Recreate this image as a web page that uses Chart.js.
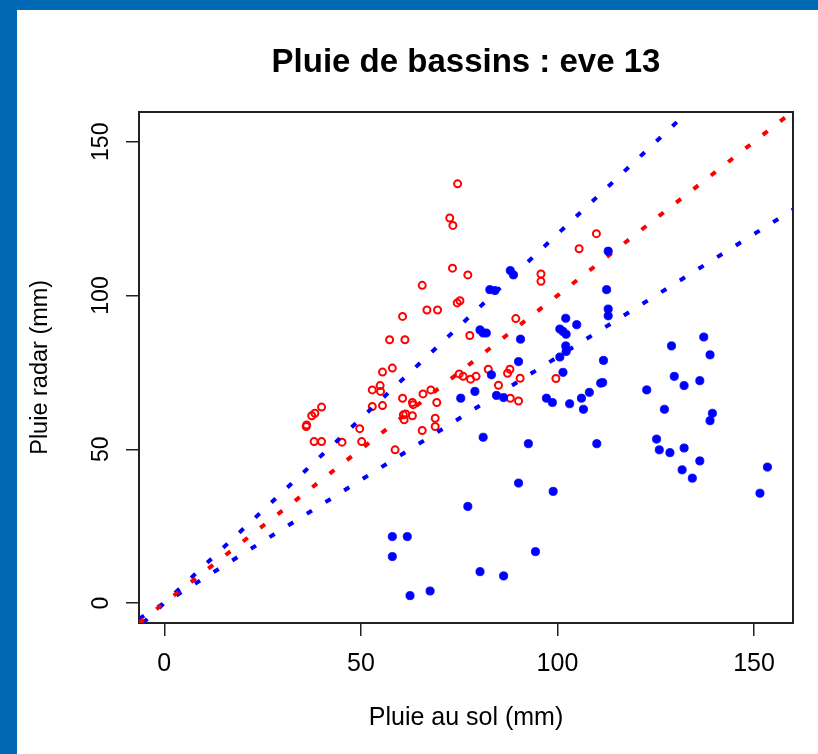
<!DOCTYPE html>
<html><head><meta charset="utf-8">
<script src="https://cdn.jsdelivr.net/npm/chart.js@4"></script>
<style>
html,body{margin:0;padding:0;background:#0069b4;width:818px;height:754px;overflow:hidden}
#wrap{position:absolute;left:17px;top:10px;width:801px;height:744px;background:#fff}
canvas{display:block}
</style></head><body>
<div id="wrap"><canvas id="c" width="801" height="744"></canvas></div>
<script>
// Red open circles : ground rain (x) vs radar rain (y)
const redX = [74.6,72.6,73.4,109.9,105.5,73.3,77.2,95.8,95.8,65.6,60.6,66.8,69.5,74.5,75.2,89.4,61.2,77.7,57.3,55.5,58.0,52.9,54.9,55.0,52.9,55.5,60.6,60.8,61.0,49.7,58.7,38.1,40.0,50.2,45.2,36.1,36.2,37.5,38.3,40.0,63.1,63.3,61.4,63.1,65.6,65.8,67.8,69.3,68.9,68.9,82.4,75.0,76.0,77.9,79.3,87.3,87.9,90.5,99.6,85.0,88.0,90.1];
const redY = [136.3,125.2,122.8,120.1,115.2,108.9,106.7,107.0,104.6,103.3,93.2,95.3,95.3,97.6,98.3,92.5,85.6,87.0,85.6,75.1,76.4,69.3,70.7,68.8,63.9,64.2,66.6,61.2,59.6,56.7,49.8,52.5,52.5,52.5,52.3,57.4,57.9,60.9,61.7,63.7,65.2,64.5,61.5,60.9,56.1,68.0,69.3,65.2,60.1,57.4,76.0,74.5,73.7,72.8,73.7,74.7,76.0,73.1,73.0,70.8,66.6,65.7];
// Blue filled points
const blueX = [88.0,88.8,82.8,84.1,112.5,112.9,112.9,80.3,81.1,81.9,102.1,104.9,100.6,101.4,102.2,90.6,102.1,102.2,100.6,129.0,137.2,112.9,111.7,90.1,83.2,79.0,75.4,84.5,86.3,101.4,97.2,98.7,103.1,106.1,108.1,111.0,111.5,106.6,81.1,92.6,110.0,90.1,98.9,77.2,61.8,58.0,58.0,94.4,80.3,86.3,67.6,62.5,122.7,138.8,129.7,132.2,136.2,127.2,139.4,138.8,125.2,125.9,128.6,132.2,136.2,131.7,134.3,153.4,151.5];
const blueY = [108.1,106.7,101.9,101.6,101.9,95.6,93.4,88.8,87.8,87.8,92.6,90.5,89.1,88.3,87.4,85.8,83.6,81.8,80.0,83.6,86.5,114.4,78.9,78.5,74.2,68.8,66.6,67.5,66.8,75.0,66.6,65.2,64.8,66.6,68.5,71.5,71.7,63.0,53.9,51.8,51.8,39.0,36.3,31.4,21.6,21.6,15.1,16.7,10.2,8.8,3.9,2.4,69.3,80.7,73.7,70.7,72.3,63.0,61.7,59.3,53.3,49.8,48.9,50.4,46.2,43.3,40.6,44.2,35.7];
// Reference lines (endpoints): y = 1.2x, y = x, y = 0.8x
const upperLineX = [-5.42, 133.2];
const upperLineY = [-6.5, 159.8];
const midLineX = [-6.43, 159.9];
const midLineY = [-6.43, 159.9];
const lowerLineX = [-6.43, 159.9];
const lowerLineY = [-5.14, 127.9];
// Axis
const xRange = [-6.43, 159.9];
const yRange = [-6.5, 159.8];
const tickStep = 50;
const titleText = 'Pluie de bassins : eve 13';
const xTitle = 'Pluie au sol (mm)';
const yTitle = 'Pluie radar (mm)';

const pts = (xs, ys) => xs.map((x, i) => ({x: x, y: ys[i]}));
const FAM = "'Liberation Sans', Arial, sans-serif";
const RED = '#ff0000', BLUE = '#0000ff', AX = '#222222';

const lineDs = (xs, ys, col, ord) => ({
  data: pts(xs, ys), showLine: true, pointRadius: 0, borderColor: col, backgroundColor: col,
  borderWidth: 4, borderDash: [6, 16], borderCapStyle: 'butt', fill: false, order: ord, clip: 0
});

new Chart(document.getElementById('c'), {
  type: 'scatter',
  data: { datasets: [
    { data: pts(redX, redY), pointStyle: 'circle', pointRadius: 3.5, pointBorderWidth: 2,
      borderColor: RED, backgroundColor: 'rgba(255,255,255,0)', pointBackgroundColor: 'rgba(255,255,255,0)', order: 5 },
    lineDs(upperLineX, upperLineY, BLUE, 4),
    lineDs(lowerLineX, lowerLineY, BLUE, 3),
    lineDs(midLineX, midLineY, RED, 2),
    { data: pts(blueX, blueY), pointStyle: 'circle', pointRadius: 4.1, pointBorderWidth: 0.8,
      borderColor: BLUE, backgroundColor: BLUE, order: 1 }
  ]},
  options: {
    responsive: false, animation: false, devicePixelRatio: 1,
    layout: { padding: { left: 0, top: 0, bottom: 0, right: 25 } },
    plugins: {
      legend: { display: false }, tooltip: { enabled: false },
      title: { display: true, text: titleText, color: '#000', fullSize: false,
        font: { family: FAM, size: 33, weight: 'bold' }, padding: { top: 33, bottom: 29 } }
    },
    scales: {
      x: { type: 'linear', position: 'bottom', min: xRange[0], max: xRange[1],
        ticks: { stepSize: tickStep, includeBounds: false, color: '#000', padding: 13,
          minRotation: 0, maxRotation: 0, font: { family: FAM, size: 25 } },
        grid: { display: true, drawOnChartArea: false, drawTicks: true, tickLength: 13, color: AX, lineWidth: 1.5 },
        border: { display: true, color: AX, width: 2 },
        title: { display: true, text: xTitle, color: '#000', font: { family: FAM, size: 25 }, padding: { top: 0, bottom: 21 } },
        afterFit: s => { s.height = 131; } },
      y: { type: 'linear', position: 'left', min: yRange[0], max: yRange[1],
        ticks: { stepSize: tickStep, includeBounds: false, color: '#000', padding: 5,
          minRotation: 90, maxRotation: 90, crossAlign: 'center', font: { family: FAM, size: 23 } },
        grid: { display: true, drawOnChartArea: false, drawTicks: true, tickLength: 13, color: AX, lineWidth: 1.5 },
        border: { display: true, color: AX, width: 2 },
        title: { display: true, text: yTitle, color: '#000', font: { family: FAM, size: 23.5 }, padding: { top: 9, bottom: 0 } },
        afterFit: s => { s.width = 122; } },
      x2: { type: 'linear', position: 'top', min: xRange[0], max: xRange[1],
        ticks: { display: false }, grid: { display: false }, border: { display: true, color: AX, width: 2 },
        afterFit: s => { s.height = 0; } },
      y2: { type: 'linear', position: 'right', min: yRange[0], max: yRange[1],
        ticks: { display: false }, grid: { display: false }, border: { display: true, color: AX, width: 2 },
        afterFit: s => { s.width = 0; } }
    }
  }
});
</script>
</body></html>
